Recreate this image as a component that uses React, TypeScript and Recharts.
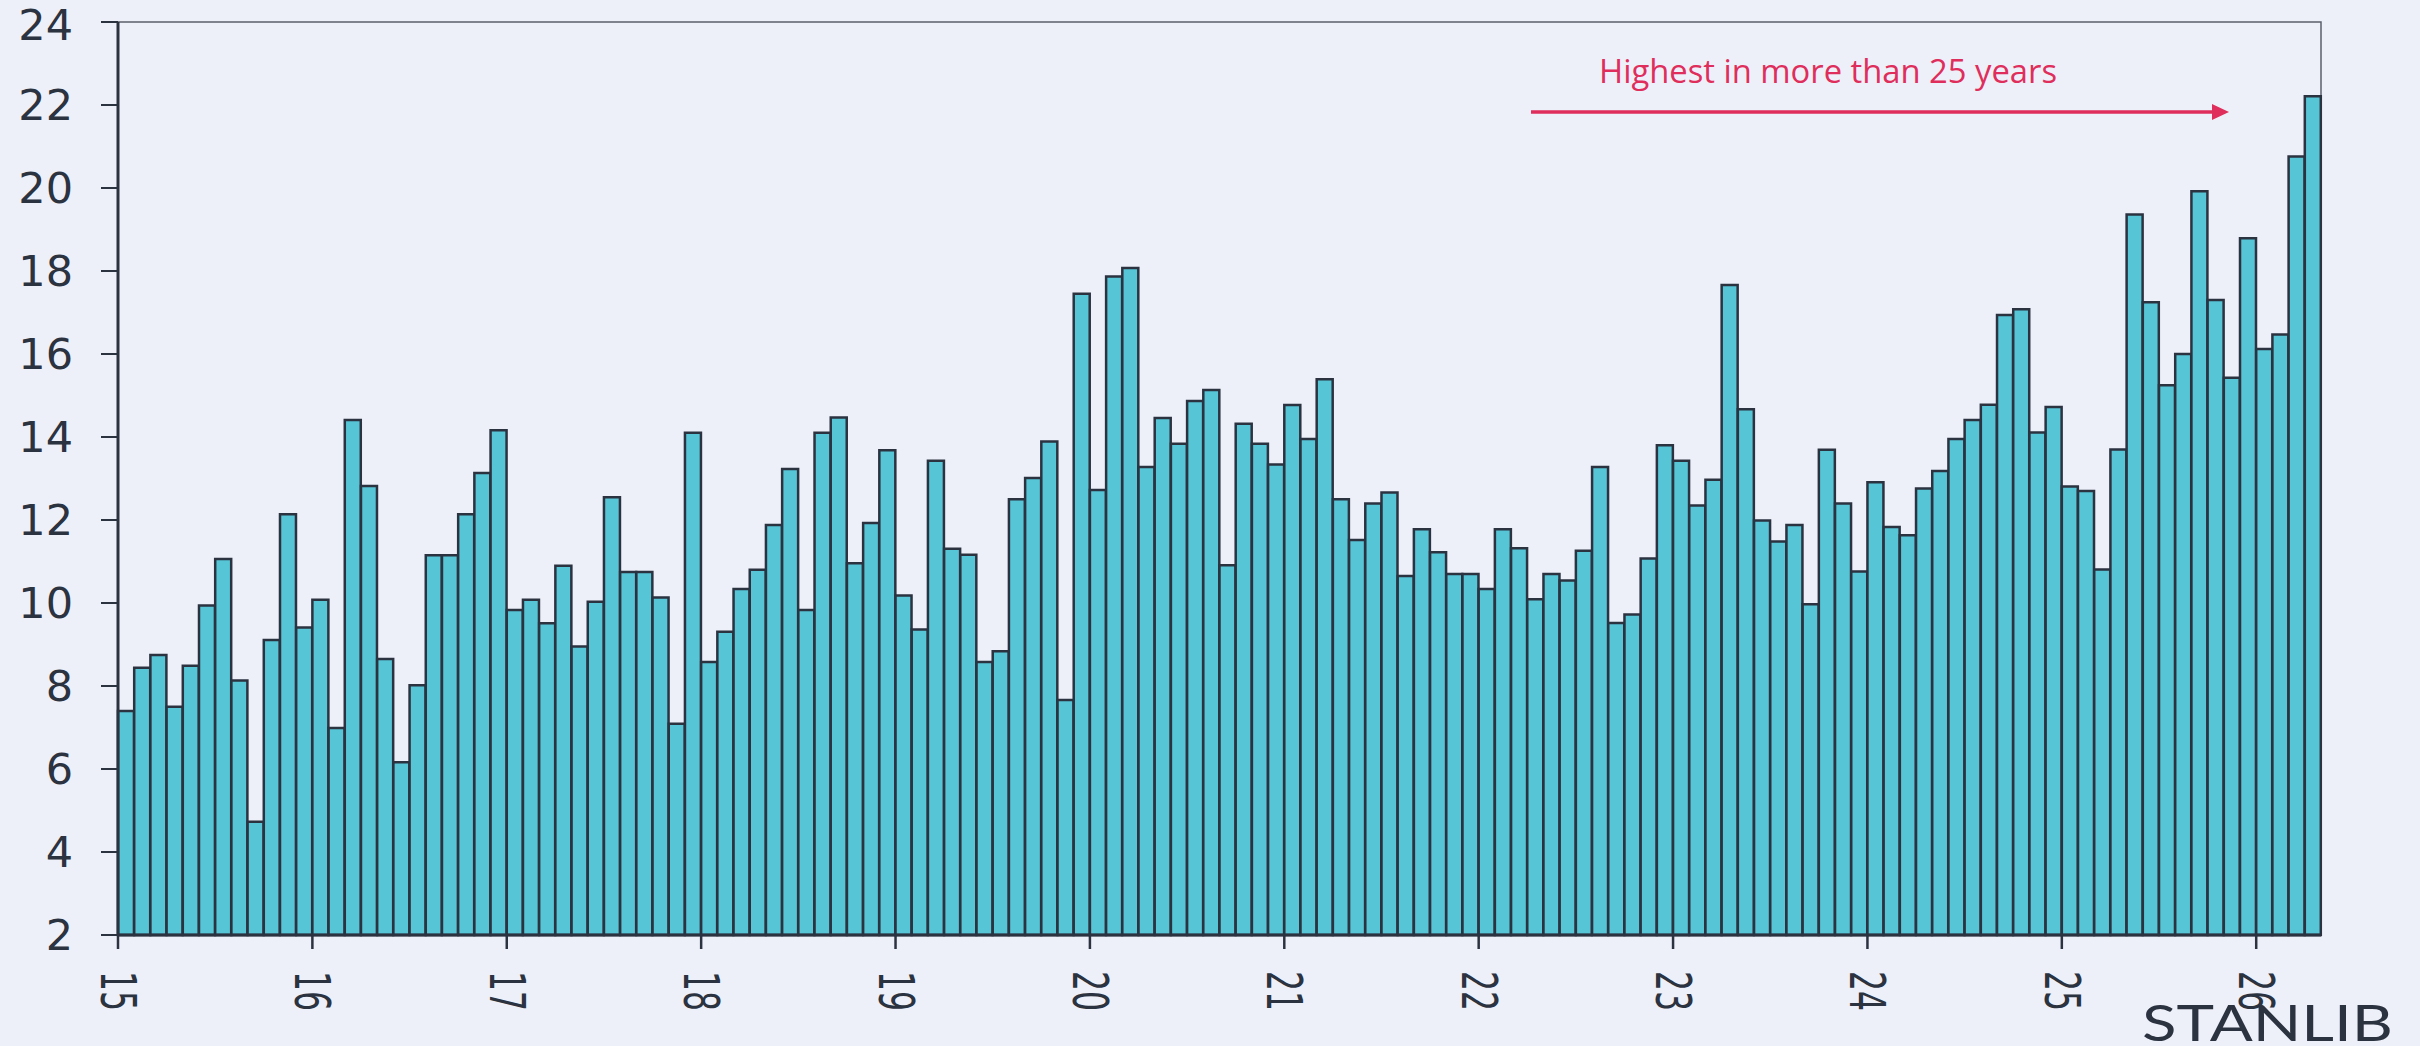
import React from "react";
import { Bar, BarChart, ReferenceArea, XAxis, YAxis } from "recharts";

// monthly values, one array per year (2026 is Jan-Apr)
const y2015 = [7.4, 8.44, 8.75, 7.5, 8.49, 9.94, 11.06, 8.13, 4.73, 9.11, 12.14, 9.41];
const y2016 = [10.08, 6.99, 14.41, 12.82, 8.65, 6.16, 8.02, 11.15, 11.15, 12.14, 13.13, 14.16];
const y2017 = [9.83, 10.08, 9.51, 10.9, 8.95, 10.03, 12.55, 10.75, 10.75, 10.13, 7.09, 14.1];
const y2018 = [8.58, 9.31, 10.34, 10.8, 11.88, 13.23, 9.83, 14.1, 14.47, 10.96, 11.93, 13.68];
const y2019 = [10.18, 9.36, 13.43, 11.31, 11.16, 8.58, 8.84, 12.5, 13.01, 13.89, 7.66, 17.45];
const y2020 = [12.72, 17.87, 18.07, 13.28, 14.46, 13.84, 14.87, 15.13, 10.91, 14.32, 13.84, 13.34];
const y2021 = [14.77, 13.95, 15.39, 12.5, 11.52, 12.4, 12.66, 10.65, 11.78, 11.22, 10.7, 10.7];
const y2022 = [10.34, 11.78, 11.32, 10.09, 10.7, 10.54, 11.26, 13.28, 9.52, 9.72, 11.07, 13.8];
const y2023 = [13.43, 12.35, 12.97, 17.66, 14.67, 11.99, 11.48, 11.88, 9.97, 13.69, 12.4, 10.76];
const y2024 = [12.91, 11.83, 11.63, 12.76, 13.18, 13.95, 14.41, 14.78, 16.94, 17.08, 14.11, 14.72];
const y2025 = [12.81, 12.7, 10.81, 13.7, 19.36, 17.25, 15.25, 16.0, 19.92, 17.3, 15.43, 18.79];
const y2026 = [16.12, 16.47, 20.76, 22.21];

const yearSeries: [string, number[]][] = [
  ["15", y2015],
  ["16", y2016],
  ["17", y2017],
  ["18", y2018],
  ["19", y2019],
  ["20", y2020],
  ["21", y2021],
  ["22", y2022],
  ["23", y2023],
  ["24", y2024],
  ["25", y2025],
  ["26", y2026],
];

const yTicks = [2, 4, 6, 8, 10, 12, 14, 16, 18, 20, 22, 24];
const yearTicks = yearSeries.map(([yy]) => `${yy}-01`);

const rows = yearSeries.flatMap(([yy, vals]) =>
  vals.map((value, m) => ({ month: `${yy}-${String(m + 1).padStart(2, "0")}`, value }))
);

const W = 2420;
const H = 1046;
const MARGIN = { top: 22, right: 99, bottom: 0, left: 0 };
const Y_AXIS_W = 118;
const X_AXIS_H = 111;
const BAND = (W - MARGIN.left - MARGIN.right - Y_AXIS_W) / rows.length;

const BG = "#EEF0F9";
const INK = "#2B3240";
const BAR = "#56C5D6";
const RED = "#DF2E5B";
const FONT = "'DejaVu Sans', sans-serif";

// year ticks sit on the left edge of each January bar
function YearTick(props: any) {
  const { x, y, payload } = props;
  const left = x - BAND / 2;
  const ty = y + 36;
  return (
    <g>
      <line x1={left} x2={left} y1={y} y2={y + 14} stroke={INK} strokeWidth={2.5} />
      <text
        x={left}
        y={ty}
        transform={`rotate(90 ${left} ${ty})`}
        dominantBaseline="central"
        textAnchor="start"
        fill={INK}
        fontSize={50}
        fontFamily="'DejaVu Sans Condensed', 'DejaVu Sans', sans-serif"
        textLength={40}
        lengthAdjust="spacingAndGlyphs"
      >
        {String(payload.value).slice(0, 2)}
      </text>
    </g>
  );
}

export default function App() {
  return (
    <div style={{ position: "absolute", left: 0, top: 0, width: W, height: H, background: BG, overflow: "hidden" }}>
      <BarChart width={W} height={H} data={rows} margin={MARGIN} barCategoryGap={0} barGap={0}>
        <ReferenceArea y1={2} y2={24} fill="none" stroke="#5A5F6B" strokeWidth={1.5} ifOverflow="visible" />
        <XAxis
          dataKey="month"
          ticks={yearTicks}
          interval={0}
          height={X_AXIS_H}
          tickSize={0}
          tickMargin={0}
          tickLine={false}
          axisLine={{ stroke: INK, strokeWidth: 3 }}
          tick={<YearTick />}
        />
        <YAxis
          domain={[2, 24]}
          ticks={yTicks}
          width={Y_AXIS_W}
          tickSize={17}
          tickMargin={28}
          axisLine={{ stroke: INK, strokeWidth: 3 }}
          tickLine={{ stroke: INK, strokeWidth: 2 }}
          tick={{ fill: INK, fontSize: 43, fontFamily: FONT }}
        />
        <Bar dataKey="value" fill={BAR} stroke={INK} strokeWidth={2.5} isAnimationActive={false} />
      </BarChart>
      <svg width={W} height={H} style={{ position: "absolute", left: 0, top: 0, pointerEvents: "none" }}>
        <text
          x={1599}
          y={83}
          fill={RED}
          fontSize={32}
          fontFamily="'Open Sans', sans-serif"
          textLength={458}
          lengthAdjust="spacingAndGlyphs"
        >
          Highest in more than 25 years
        </text>
        <line x1={1531} y1={112} x2={2214} y2={112} stroke={RED} strokeWidth={3.5} />
        <polygon points="2212,104 2229,112 2212,120" fill={RED} />
        <text
          x={2142}
          y={1041}
          fill={INK}
          fontSize={51}
          fontFamily="Lato, sans-serif"
          textLength={251}
          lengthAdjust="spacingAndGlyphs"
        >
          STANLIB
        </text>
      </svg>
    </div>
  );
}
